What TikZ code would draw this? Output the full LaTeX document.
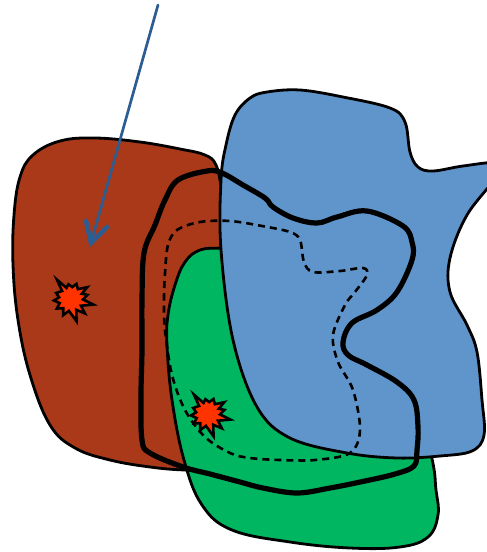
\documentclass[tikz,border=0pt]{standalone}
\definecolor{Rregion}{RGB}{169,57,25}
\definecolor{Gregion}{RGB}{0,182,97}
\definecolor{Bregion}{RGB}{95,149,203}
\definecolor{Aline}{RGB}{44,93,146}
\definecolor{Bfire}{RGB}{255,51,0}
\tikzset{
  region/.style={draw=black,line width=2.8pt,line join=round},
  boundary/.style={draw=black,line width=5.2pt,line join=round},
  innerpath/.style={draw=black,line width=2.6pt,dash pattern=on 7pt off 5pt,line cap=butt},
  burst/.pic={
    \draw[line width=2.6pt,fill=Bfire,line join=miter,miter limit=10]
      (76:23) -- (64:12) -- (46:20) -- (34:12) -- (14:23) -- (2:12) -- (-14:17) -- (-26:12) -- (-36:20)
      -- (-55:12) -- (-70:16) -- (-84:12) -- (-100:15) -- (-112:12) -- (-126:24) -- (-138:12) -- (-158:16) -- (-172:12)
      -- (175:17) -- (160:12) -- (146:17) -- (130:12) -- (116:18) -- (100:12) -- cycle;
  }
}
\begin{document}
\begin{tikzpicture}[x=1pt,y=-1pt,line cap=round]
\path[use as bounding box] (0,0) rectangle (487,552);
\path[region,fill=Rregion] plot[smooth cycle,tension=0.65] coordinates {(95,138) (140,142) (180,149) (205,155) (216,165) (222,190) (235,250) (240,400) (225,470) (185,470) (150,467) (110,460) (75,448) (50,425) (30,375) (18,320) (13,265) (14,215) (20,177) (33,155) (60,141)};
\path[region,fill=Gregion] plot[smooth cycle,tension=0.65] coordinates {(222,248) (200,250) (185,262) (175,285) (168,315) (167,345) (172,400) (184,460) (202,505) (232,530) (290,542) (350,548) (400,547) (428,537) (438,515) (436,490) (430,450) (400,340) (300,260) (250,247)};
\path[region,fill=Bregion] plot[smooth cycle,tension=0.6] coordinates {(267,92) (300,90) (343,97) (390,108) (405,122) (410,152) (418,167) (433,171) (463,166) (497,163) (497,176) (467,215) (450,258) (450,292) (467,325) (477,352) (482,400) (484,435) (472,451) (440,456) (397,458) (347,453) (290,438) (257,407) (233,340) (221,250) (221,180) (226,145) (235,115) (250,98)};
\draw[innerpath] plot[smooth cycle,tension=0.55] coordinates {(165,330) (164,300) (165,273) (168,245) (177,230) (200,222) (230,221) (262,226) (290,232) (300,240) (304,262) (313,272) (340,271) (363,268) (367,275) (355,292) (345,305) (333,335) (338,362) (353,390) (360,430) (350,453) (315,460) (280,460) (250,458) (230,453) (205,437) (185,410) (172,375)};
\draw[boundary] plot[smooth cycle,tension=0.6] coordinates {(207,171) (222,173) (243,185) (265,198) (273,207) (293,218) (317,223) (337,217) (367,211) (403,226) (412,242) (412,260) (397,292) (377,310) (352,323) (343,342) (348,355) (367,365) (397,382) (414,400) (418,427) (417,450) (414,466) (395,474) (365,481) (330,488) (297,493) (263,488) (240,482) (210,474) (183,467) (150,453) (142,440) (141,395) (142,350) (142,300) (144,253) (155,225) (165,200) (178,180)};
\pic at (71,299) {burst};
\pic at (208,414) {burst};
\coordinate (arrowstart) at (158,5);
\coordinate (arrowtip) at (91,243);
\draw[Aline,line width=2.7pt] (arrowstart) -- (arrowtip);
\draw[Aline,line width=4.5pt,line join=miter] (86,221) -- (arrowtip) -- (107,227);
\end{tikzpicture}
\end{document}
